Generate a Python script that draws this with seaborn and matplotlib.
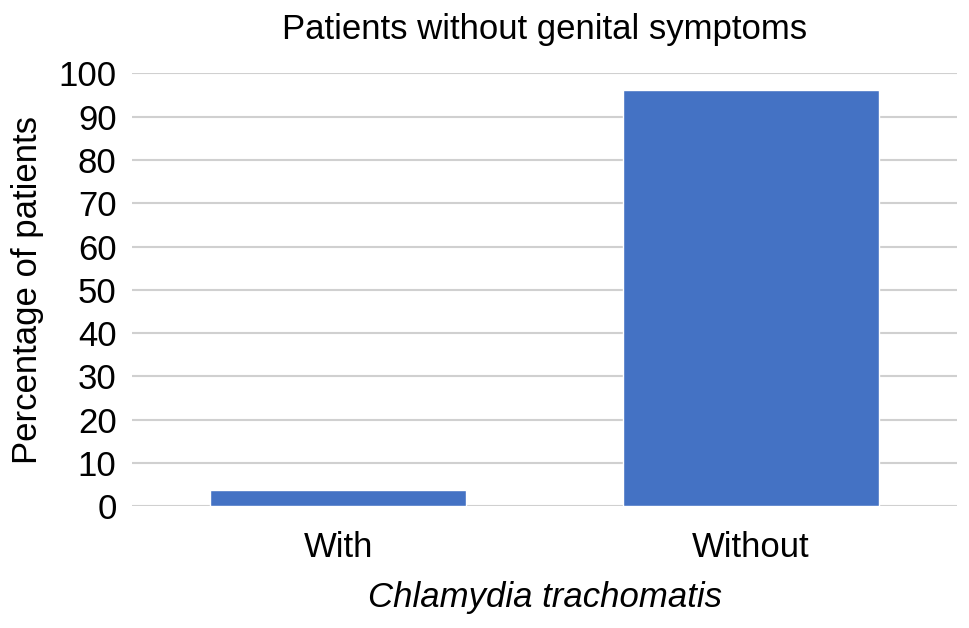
import matplotlib
matplotlib.use("Agg")
import matplotlib.pyplot as plt
import seaborn as sns
import pandas as pd

# Data
categories = ["With", "Without"]
percentages = [3.8, 96.2]
y_ticks = list(range(0, 101, 10))

df = pd.DataFrame({"group": categories, "pct": percentages})

sns.set_style("white")
plt.rcParams['font.family'] = ['Liberation Sans', 'DejaVu Sans']
plt.rcParams['text.color'] = 'black'
plt.rcParams['axes.labelcolor'] = 'black'
plt.rcParams['xtick.color'] = 'black'
plt.rcParams['ytick.color'] = 'black'

fig = plt.figure(figsize=(9.69, 6.28), dpi=100)
ax = fig.add_axes([0.136, 0.194, 0.852, 0.689])

sns.barplot(data=df, x="group", y="pct", color="#4472C4", width=0.62,
            saturation=1, ax=ax, zorder=3)

ax.set_ylim(0, 100)
ax.set_yticks(y_ticks)
ax.yaxis.grid(True, color="#d0d0d0", linewidth=1.5, zorder=0)
ax.set_axisbelow(True)
for s in ax.spines.values():
    s.set_visible(False)
ax.tick_params(axis="both", length=0, labelsize=25)
ax.tick_params(axis="y", pad=11)
ax.tick_params(axis="x", pad=18)

ax.set_title("Patients without genital symptoms", fontsize=25, pad=25)
ax.set_ylabel("Percentage of patients", fontsize=25, labelpad=10)
ax.set_xlabel("Chlamydia trachomatis", fontsize=25, style="italic", labelpad=12)

plt.savefig("out.png", dpi=100)
